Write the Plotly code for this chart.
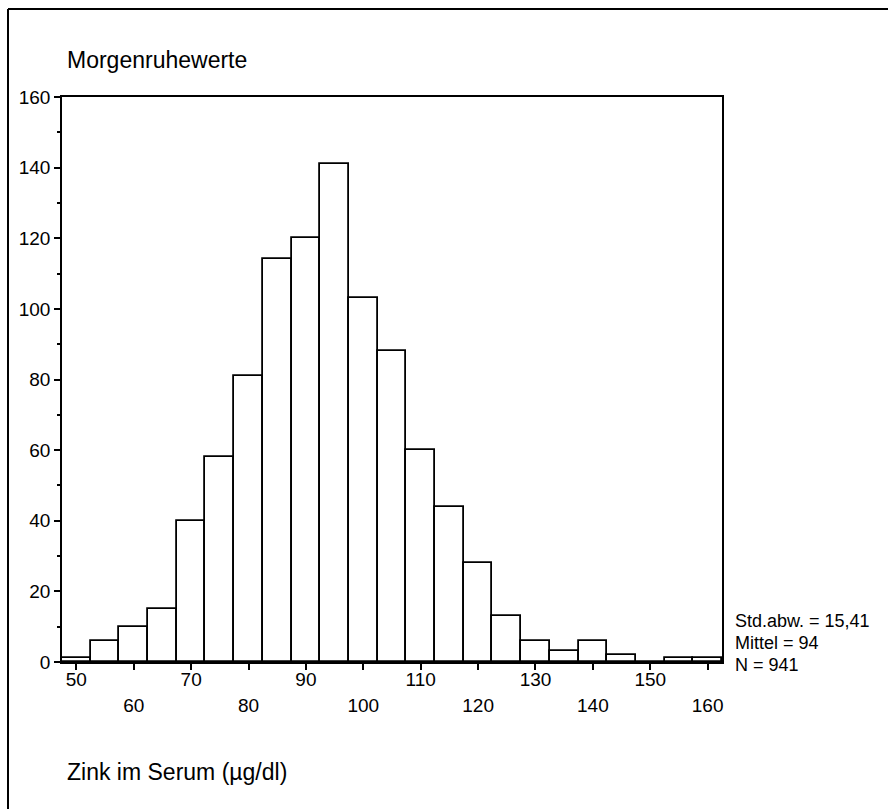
import plotly.graph_objects as go

# Data (bin centres, width 5)
bin_centers = [50, 55, 60, 65, 70, 75, 80, 85, 90, 95, 100, 105, 110, 115,
               120, 125, 130, 135, 140, 145, 150, 155, 160]
counts = [1, 6, 10, 15, 40, 58, 81, 114, 120, 141, 103, 88, 60, 44,
          28, 13, 6, 3, 6, 2, 0, 1, 1]
bin_width = 5

x_ticks_row1 = [50, 70, 90, 110, 130, 150]
x_ticks_row2 = [60, 80, 100, 120, 140, 160]
y_major = [0, 20, 40, 60, 80, 100, 120, 140, 160]
y_minor = [10, 30, 50, 70, 90, 110, 130, 150]

title_text = "Morgenruhewerte"
x_title = "Zink im Serum (µg/dl)"
stats = ["Std.abw. = 15,41", "Mittel = 94", "N = 941"]

FONT = "Liberation Sans, Arial, sans-serif"

W, H = 888, 809
L, R, T, B = 62, 166, 97, 147
pw, ph = W - L - R, H - T - B

def px_x(px):
    return (px - L) / pw

def px_y(py):
    return (H - B - py) / ph

fig = go.Figure()
fig.add_trace(go.Bar(
    x=bin_centers, y=counts, width=[bin_width] * len(bin_centers),
    marker=dict(color="white", line=dict(color="black", width=1.8)),
    showlegend=False, hoverinfo="x+y",
))
# invisible trace to carry the second row of x tick labels
fig.add_trace(go.Scatter(x=[x_ticks_row2[0]], y=[0], xaxis="x2", mode="markers",
                         marker=dict(opacity=0), showlegend=False, hoverinfo="skip"))

all_x = sorted(x_ticks_row1 + x_ticks_row2)
fig.update_layout(
    width=W, height=H,
    margin=dict(l=L, r=R, t=T, b=B, pad=0),
    paper_bgcolor="white", plot_bgcolor="white",
    font=dict(family=FONT, size=19, color="black"),
    bargap=0,
    xaxis=dict(
        range=[47.5, 162.5], tickvals=all_x,
        ticktext=[str(v) if v in x_ticks_row1 else "" for v in all_x],
        ticks="outside", ticklen=6, tickwidth=1.5, tickcolor="black",
        showline=True, linecolor="black", linewidth=1.5, mirror=True,
        showgrid=False, zeroline=False, ticklabelstandoff=-7,
        tickfont=dict(family=FONT, size=19, color="black"),
    ),
    xaxis2=dict(
        overlaying="x", matches="x", side="bottom", anchor="y",
        tickvals=x_ticks_row2, ticktext=[str(v) for v in x_ticks_row2],
        ticks="", showline=False, showgrid=False, zeroline=False,
        ticklabelstandoff=30,
        tickfont=dict(family=FONT, size=19, color="black"),
    ),
    yaxis=dict(
        range=[0, 160], tickvals=y_major, ticktext=[str(v) for v in y_major],
        ticks="outside", ticklen=6, tickwidth=1.5, tickcolor="black",
        minor=dict(tickvals=y_minor, ticks="outside", ticklen=3, tickwidth=1.5, tickcolor="black"),
        showline=True, linecolor="black", linewidth=1.5, mirror=True,
        showgrid=False, zeroline=False,
        tickfont=dict(family=FONT, size=19, color="black"),
    ),
)

annotations = [
    dict(text=title_text, xref="paper", yref="paper", x=px_x(65), y=px_y(60),
         xanchor="left", yanchor="middle", showarrow=False,
         font=dict(family=FONT, size=23, color="black")),
    dict(text=x_title, xref="paper", yref="paper", x=px_x(65), y=px_y(772),
         xanchor="left", yanchor="middle", showarrow=False,
         font=dict(family=FONT, size=23, color="black")),
]
for txt, yy in zip(stats, [621, 643, 665]):
    annotations.append(dict(text=txt, xref="paper", yref="paper", x=px_x(733), y=px_y(yy),
                            xanchor="left", yanchor="middle", showarrow=False,
                            font=dict(family=FONT, size=18, color="black")))
fig.update_layout(annotations=annotations)

# outer frame (top and left edges of the scanned figure border)
fig.add_shape(type="line", xref="paper", yref="paper",
              x0=px_x(8), y0=px_y(9), x1=px_x(W), y1=px_y(9),
              line=dict(color="black", width=2))
fig.add_shape(type="line", xref="paper", yref="paper",
              x0=px_x(8), y0=px_y(9), x1=px_x(8), y1=px_y(H),
              line=dict(color="black", width=2))

fig.write_html(
    "out.html",
    config={"displayModeBar": False},
    post_script="document.body.style.margin='0';document.documentElement.style.overflow='hidden';document.body.style.overflow='hidden';",
)
